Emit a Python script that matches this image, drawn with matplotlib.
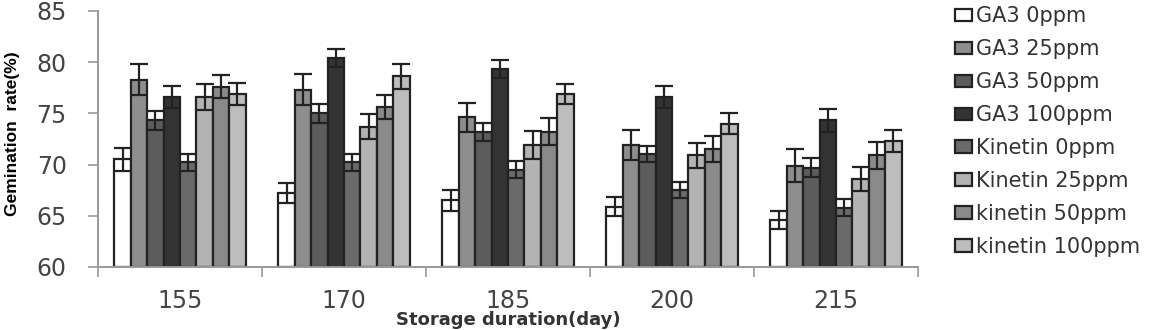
import numpy as np
import matplotlib.pyplot as plt

days = ['155', '170', '185', '200', '215']
treatments = ['GA3 0ppm', 'GA3 25ppm', 'GA3 50ppm', 'GA3 100ppm',
              'Kinetin 0ppm', 'Kinetin 25ppm', 'kinetin 50ppm', 'kinetin 100ppm']

ga3_0 = [70.5, 67.2, 66.5, 65.9, 64.6]
ga3_25 = [78.3, 77.3, 74.6, 71.9, 69.9]
ga3_50 = [74.3, 75.0, 73.2, 71.0, 69.7]
ga3_100 = [76.6, 80.4, 79.3, 76.6, 74.3]
kin_0 = [70.2, 70.2, 69.5, 67.5, 65.8]
kin_25 = [76.6, 73.7, 71.9, 70.9, 68.6]
kin_50 = [77.6, 75.6, 73.2, 71.5, 70.9]
kin_100 = [76.9, 78.6, 76.9, 74.0, 72.3]

ga3_0_err = [1.1, 1.0, 1.0, 0.9, 0.9]
ga3_25_err = [1.5, 1.5, 1.4, 1.5, 1.6]
ga3_50_err = [0.9, 0.9, 0.9, 0.8, 0.9]
ga3_100_err = [1.1, 0.9, 0.9, 1.1, 1.1]
kin_0_err = [0.8, 0.8, 0.8, 0.8, 0.8]
kin_25_err = [1.3, 1.2, 1.4, 1.2, 1.2]
kin_50_err = [1.1, 1.2, 1.3, 1.3, 1.3]
kin_100_err = [1.1, 1.2, 1.0, 1.0, 1.1]

series = [ga3_0, ga3_25, ga3_50, ga3_100, kin_0, kin_25, kin_50, kin_100]
errors = [ga3_0_err, ga3_25_err, ga3_50_err, ga3_100_err,
          kin_0_err, kin_25_err, kin_50_err, kin_100_err]
colors = ['#ffffff', '#8e8e8e', '#5c5c5c', '#333333',
          '#6a6a6a', '#b3b3b3', '#8a8a8a', '#bdbdbd']

fig = plt.figure(figsize=(11.55, 3.3), dpi=100)
ax = fig.add_axes([0.0848, 0.191, 0.7100, 0.776])

x = np.arange(len(days))
n = len(series)
width = 0.8 / n
for i, (vals, errs) in enumerate(zip(series, errors)):
    pos = x - 0.4 + width * (i + 0.5)
    ax.bar(pos, np.array(vals) - 60, bottom=60, width=width, color=colors[i],
           edgecolor='#222222', linewidth=1.6, label=treatments[i], zorder=2)
    ax.errorbar(pos, vals, yerr=errs, fmt='none', ecolor='#222222',
                elinewidth=1.6, capsize=6.5, capthick=1.6, zorder=3)

ax.set_ylim(60, 85)
ax.set_xlim(-0.5, len(days) - 0.5)
ax.set_yticks(np.arange(60, 86, 5))
ax.set_xticks(x)
ax.set_xticklabels(days)
ax.set_xticks(np.arange(-0.5, len(days)), minor=True)
ax.tick_params(axis='x', which='major', length=0, pad=16, labelsize=17, labelcolor='#444444')
ax.tick_params(axis='x', which='minor', length=7, width=1.2, color='#999999')
ax.tick_params(axis='y', length=7.5, width=1.2, color='#999999', labelsize=17,
               labelcolor='#444444', pad=15)
for side in ['top', 'right']:
    ax.spines[side].set_visible(False)
for side in ['left', 'bottom']:
    ax.spines[side].set_color('#999999')
    ax.spines[side].set_linewidth(1.4)

ax.set_ylabel('Gemination  rate(%)', fontsize=12.5, fontweight='bold',
              family=['Liberation Sans Narrow', 'Liberation Sans', 'DejaVu Sans'])
ax.yaxis.set_label_coords(-0.095, 0.52)
ax.set_xlabel('Storage duration(day)', fontsize=13, fontweight='bold', color='#333333',
              va='bottom')
ax.xaxis.set_label_coords(0.5, -0.243)

ax.legend(loc='upper left', bbox_to_anchor=(1.035, 1.05), frameon=False,
          fontsize=15, labelcolor='#333333', handlelength=0.8, handleheight=0.55,
          handletextpad=0.2, labelspacing=0.62, borderaxespad=0)

fig.savefig('out.png', dpi=100)
